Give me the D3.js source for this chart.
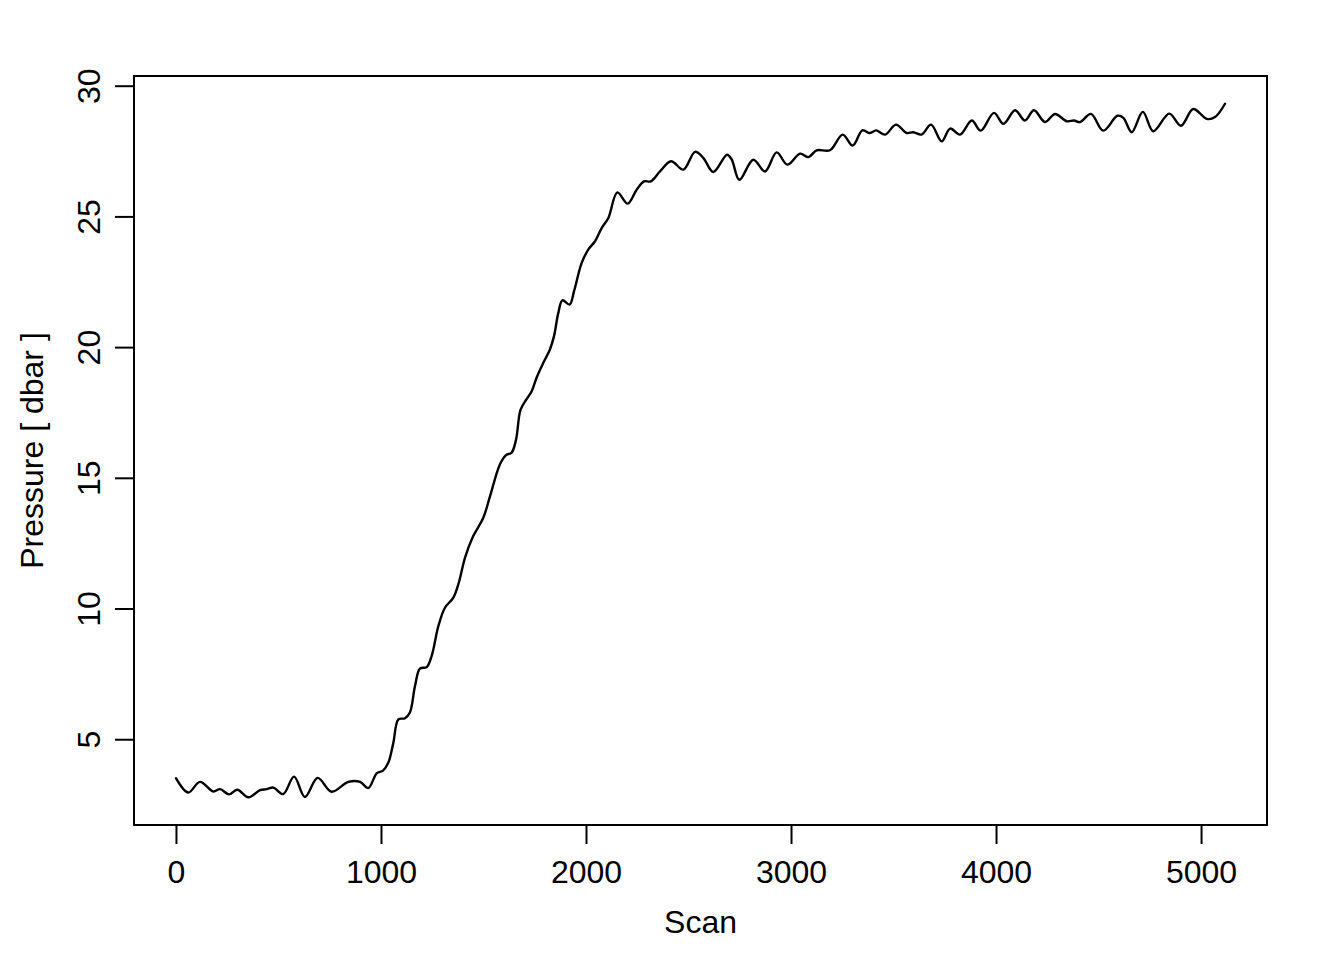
<!DOCTYPE html>
<html>
<head>
<meta charset="utf-8">
<script src="https://cdn.jsdelivr.net/npm/d3@7"></script>
<style>
  html, body { margin: 0; padding: 0; background: #ffffff; }
  svg { display: block; }
  text { font-family: "Liberation Sans", Arial, Helvetica, sans-serif; fill: #000; }
</style>
</head>
<body>
<svg id="chart" width="1344" height="960"></svg>
<script>
// ---- data ----
const scan = [0, 60, 117, 182, 215, 259, 299, 353, 410, 442, 475, 523, 576, 629, 691, 759, 841, 898, 938, 979,
  1010, 1036, 1060, 1085, 1117, 1141, 1166, 1190, 1223, 1247, 1280, 1312, 1353, 1380, 1410, 1450, 1499, 1532, 1580, 1610,
  1637, 1659, 1681, 1711, 1735, 1759, 1792, 1824, 1844, 1865, 1885, 1920, 1942, 1979, 2011, 2044, 2077, 2109, 2153, 2203,
  2247, 2283, 2316, 2361, 2415, 2475, 2532, 2572, 2621, 2688, 2711, 2748, 2816, 2873, 2930, 2982, 3044, 3085, 3125, 3190,
  3252, 3301, 3348, 3385, 3415, 3459, 3512, 3564, 3596, 3637, 3683, 3735, 3776, 3824, 3882, 3925, 3990, 4036, 4093, 4141,
  4185, 4239, 4288, 4345, 4380, 4410, 4463, 4523, 4592, 4621, 4662, 4716, 4767, 4845, 4902, 4962, 5028, 5068, 5117];
const pressure = [3.51, 2.96, 3.37, 3.00, 3.09, 2.89, 3.07, 2.78, 3.05, 3.09, 3.15, 2.90, 3.57, 2.79, 3.52, 2.99, 3.37, 3.37, 3.13, 3.69,
  3.80, 4.11, 4.85, 5.76, 5.80, 6.02, 7.04, 7.70, 7.76, 8.18, 9.33, 10.03, 10.42, 11.00, 11.95, 12.77, 13.47, 14.30, 15.51, 15.87,
  15.96, 16.47, 17.61, 18.02, 18.31, 18.83, 19.40, 19.91, 20.42, 21.31, 21.79, 21.63, 22.15, 23.22, 23.73, 24.05, 24.56, 24.94, 25.92, 25.49,
  26.02, 26.34, 26.34, 26.72, 27.11, 26.79, 27.47, 27.24, 26.70, 27.36, 27.17, 26.40, 27.17, 26.72, 27.45, 26.98, 27.40, 27.27, 27.53, 27.53,
  28.13, 27.71, 28.29, 28.19, 28.29, 28.13, 28.51, 28.19, 28.22, 28.13, 28.51, 27.87, 28.36, 28.13, 28.67, 28.28, 28.96, 28.54, 29.06, 28.67,
  29.06, 28.61, 28.92, 28.64, 28.67, 28.61, 28.92, 28.28, 28.85, 28.77, 28.22, 29.00, 28.26, 28.93, 28.47, 29.11, 28.73, 28.80, 29.31];
const xTicks = [0, 1000, 2000, 3000, 4000, 5000];
const yTicks = [5, 10, 15, 20, 25, 30];
const xLabel = "Scan";
const yLabel = "Pressure [ dbar ]";

// ---- layout ----
const plot = { left: 134, right: 1267, top: 76, bottom: 825 };
const svg = d3.select("#chart");

function padded(ext) {
  const d = (ext[1] - ext[0]) * 0.04;
  return [ext[0] - d, ext[1] + d];
}

const x = d3.scaleLinear().domain(padded(d3.extent(scan))).range([plot.left, plot.right]);
const y = d3.scaleLinear().domain(padded(d3.extent(pressure))).range([plot.bottom, plot.top]);

const points = scan.map((s, i) => [s, pressure[i]]);

// line
const line = d3.line()
  .x(d => x(d[0]))
  .y(d => y(d[1]))
  .curve(d3.curveCatmullRom.alpha(0.5));

svg.append("path")
  .datum(points)
  .attr("d", line)
  .attr("fill", "none")
  .attr("stroke", "#000")
  .attr("stroke-width", 2.4)
  .attr("stroke-linejoin", "round")
  .attr("stroke-linecap", "round");

// box
svg.append("rect")
  .attr("x", plot.left).attr("y", plot.top)
  .attr("width", plot.right - plot.left).attr("height", plot.bottom - plot.top)
  .attr("fill", "none").attr("stroke", "#000").attr("stroke-width", 2);

// x axis
const gx = svg.append("g")
  .attr("transform", `translate(0,${plot.bottom})`)
  .call(d3.axisBottom(x).tickValues(xTicks).tickSize(19).tickSizeOuter(0).tickFormat(d3.format("d")));
gx.select(".domain").remove();
gx.append("line")
  .attr("x1", x(xTicks[0])).attr("x2", x(xTicks[xTicks.length - 1]))
  .attr("stroke", "#000").attr("stroke-width", 2);
gx.selectAll(".tick line").attr("stroke", "#000").attr("stroke-width", 2);
gx.selectAll(".tick text")
  .attr("y", 58).attr("dy", 0)
  .attr("font-size", 32)
  .attr("font-family", "'Liberation Sans', Arial, sans-serif")
  .attr("fill", "#000");

// y axis
const gy = svg.append("g")
  .attr("transform", `translate(${plot.left},0)`)
  .call(d3.axisLeft(y).tickValues(yTicks).tickSize(19).tickSizeOuter(0).tickFormat(d3.format("d")));
gy.select(".domain").remove();
gy.append("line")
  .attr("y1", y(yTicks[0])).attr("y2", y(yTicks[yTicks.length - 1]))
  .attr("stroke", "#000").attr("stroke-width", 2);
gy.selectAll(".tick line").attr("stroke", "#000").attr("stroke-width", 2);
gy.selectAll(".tick text")
  .attr("x", null).attr("dy", 0)
  .attr("text-anchor", "middle")
  .attr("transform", "translate(-34,0) rotate(-90)")
  .attr("font-size", 32)
  .attr("font-family", "'Liberation Sans', Arial, sans-serif")
  .attr("fill", "#000");

// axis titles
svg.append("text")
  .attr("x", (plot.left + plot.right) / 2)
  .attr("y", 933)
  .attr("text-anchor", "middle")
  .attr("font-size", 32)
  .text(xLabel);

svg.append("text")
  .attr("transform", `translate(43,${(plot.top + plot.bottom) / 2}) rotate(-90)`)
  .attr("text-anchor", "middle")
  .attr("font-size", 32)
  .text(yLabel);
</script>
</body>
</html>
